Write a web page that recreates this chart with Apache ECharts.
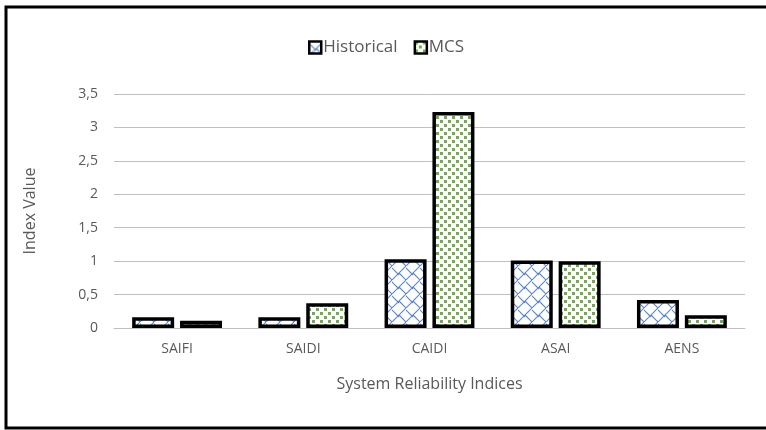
<!DOCTYPE html>
<html>
<head>
<meta charset="utf-8">
<script src="https://cdn.jsdelivr.net/npm/echarts@6/dist/echarts.min.js"></script>
<style>
  html, body { margin: 0; padding: 0; background: #fff; overflow: hidden; }
  #chart { width: 766px; height: 430px; }
</style>
</head>
<body>
<div id="chart"></div>
<script>
// Reliability indices compared for two methods
const categories = ['SAIFI', 'SAIDI', 'CAIDI', 'ASAI', 'AENS'];
const historical = [0.16, 0.16, 1.03, 1.01, 0.42];
const mcs = [0.11, 0.37, 3.23, 1.0, 0.19];
const yTicks = [0, 0.5, 1, 1.5, 2, 2.5, 3, 3.5];

const FONT = '"Open Sans", "Noto Sans", sans-serif';
const TEXT = '#595959';

// Blue diagonal lattice fill
function latticePattern() {
  const c = document.createElement('canvas');
  c.width = 14; c.height = 14;
  const g = c.getContext('2d');
  g.fillStyle = '#ffffff';
  g.fillRect(0, 0, 14, 14);
  g.strokeStyle = '#5b86d0';
  g.lineWidth = 1.1;
  g.beginPath();
  g.moveTo(-1, 15); g.lineTo(15, -1);
  g.moveTo(-1, 1); g.lineTo(7, 9);
  g.moveTo(7, -7); g.lineTo(15, 1);
  g.moveTo(7, 7); g.lineTo(15, 15);
  g.stroke();
  return c;
}

// Green dotted fill
function dotPattern() {
  const c = document.createElement('canvas');
  c.width = 8; c.height = 8;
  const g = c.getContext('2d');
  g.fillStyle = '#ffffff';
  g.fillRect(0, 0, 8, 8);
  g.fillStyle = '#72ad4c';
  g.fillRect(0, 0, 3, 3);
  g.fillRect(4, 4, 3, 3);
  return c;
}

const histFill = { image: latticePattern(), repeat: 'repeat' };
const mcsFill = { image: dotPattern(), repeat: 'repeat' };

const chart = echarts.init(document.getElementById('chart'), null, { renderer: 'canvas' });

chart.setOption({
  animation: false,
  backgroundColor: '#ffffff',
  textStyle: { fontFamily: FONT },
  // open frame: top, left and bottom edges
  graphic: [{
    type: 'polyline',
    shape: { points: [[780, 7], [6, 7], [6, 428], [780, 428]] },
    style: { fill: 'none', stroke: '#000', lineWidth: 3 },
    silent: true
  }],
  legend: {
    left: 303,
    top: 34,
    itemWidth: 12,
    itemHeight: 12,
    itemGap: 16,
    icon: 'rect',
    itemStyle: { borderColor: '#000', borderWidth: 2.5 },
    textStyle: { color: TEXT, fontSize: 17, fontFamily: FONT, padding: [0, 0, 0, -3] },
    data: ['Historical', 'MCS']
  },
  grid: { left: 114, right: 21, top: 94, bottom: 102 },
  xAxis: {
    type: 'category',
    data: categories,
    name: 'System Reliability Indices',
    nameLocation: 'middle',
    nameGap: 48,
    nameTextStyle: { color: TEXT, fontSize: 16, fontFamily: FONT },
    axisLine: { lineStyle: { color: '#BFBFBF', width: 1 } },
    axisTick: { show: false },
    axisLabel: { color: TEXT, fontSize: 14, margin: 14, fontFamily: FONT }
  },
  yAxis: {
    type: 'value',
    min: yTicks[0],
    max: yTicks[yTicks.length - 1],
    interval: yTicks[1] - yTicks[0],
    name: 'Index Value',
    nameLocation: 'middle',
    nameGap: 76,
    nameTextStyle: { color: TEXT, fontSize: 16, fontFamily: FONT },
    axisLine: { show: false },
    axisTick: { show: false },
    splitLine: { lineStyle: { color: '#BFBFBF', width: 1 } },
    axisLabel: {
      color: TEXT, fontSize: 14, margin: 16, fontFamily: FONT,
      formatter: v => String(v).replace('.', ',')
    }
  },
  series: [
    {
      name: 'Historical',
      type: 'bar',
      data: historical,
      barWidth: 42,
      barGap: '14%',
      itemStyle: { color: histFill, borderColor: '#000', borderWidth: 3.5 }
    },
    {
      name: 'MCS',
      type: 'bar',
      data: mcs,
      barWidth: 42,
      barGap: '14%',
      itemStyle: { color: mcsFill, borderColor: '#000', borderWidth: 3.5 }
    }
  ]
});
</script>
</body>
</html>
